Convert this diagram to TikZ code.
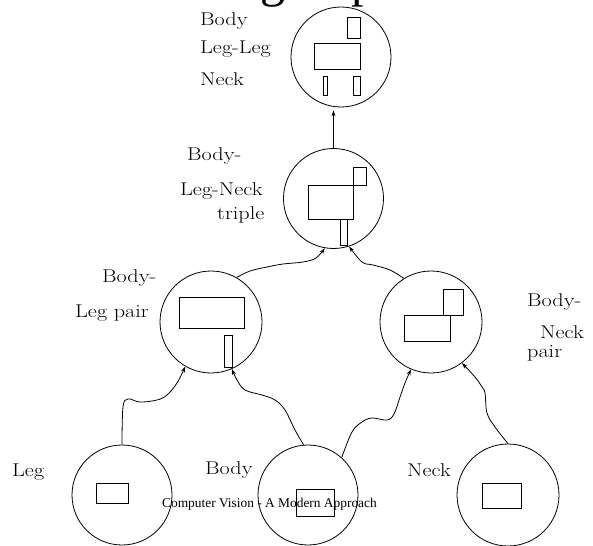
\documentclass[tikz,border=0pt]{standalone}
\usepackage{graphicx}
\usepackage{fontspec}
\newfontfamily\timesfont{Liberation Serif}
\usetikzlibrary{arrows.meta}
% slightly widened serif for the part labels
\newcommand\lblw[1]{\scalebox{1.2}[1]{#1}}
\begin{document}
\begin{tikzpicture}[x=1pt,y=-1pt,
  part/.style={circle, draw, line width=0.8pt, minimum size=100pt, inner sep=0pt},
  blk/.style={draw, line width=1pt},
  lbl/.style={font=\fontsize{18.5}{22}\selectfont, inner sep=0pt, anchor=base west},
  arr/.style={line width=0.8pt, -{Stealth[length=6pt,width=4pt]}},
  wiggle/.style={arr, smooth, tension=0.6}]
\useasboundingbox (0,0) rectangle (593,545);

% title, mostly above the frame
\node[font=\timesfont\fontsize{50}{56}\selectfont, inner sep=0pt, anchor=base west] (title) at (260,-3) {group};

% part circles
\node[part] (top)  at (341,57) {};
\node[part] (tri)  at (333.5,198.5) {};
\node[part, minimum size=102pt] (bl) at (211,322) {};
\node[part, minimum size=102pt] (bn) at (431,322) {};
\node[part] (leg)  at (122,495) {};
\node[part] (body) at (308,495) {};
\node[part, minimum size=102pt] (neck) at (508,495) {};

% figures inside the circles
\draw[blk] (347,18) rectangle (360,39);
\draw[blk] (314,44) rectangle (360,70);
\draw[blk] (323,77) rectangle (327,96);
\draw[blk] (353,77) rectangle (360,96);

\draw[blk] (308,186) rectangle (353,219);
\draw[blk] (353,168) rectangle (366,186);
\draw[blk] (340,219) rectangle (347,245);

\draw[blk] (179,297) rectangle (244,328);
\draw[blk] (224,335) rectangle (232,367);

\draw[blk] (404,315) rectangle (450,341);
\draw[blk] (443,289) rectangle (463,315);

\draw[blk] (96,483) rectangle (128,503);
\draw[blk] (296,489) rectangle (334,516);
\draw[blk] (482,483) rectangle (521,508);

% labels
\node[lbl] (t1) at (200,26) {\lblw{Body}};
\node[lbl] (t2) at (200,54) {\lblw{Leg-Leg}};
\node[lbl] (t3) at (200,86) {\lblw{Neck}};

\node[lbl] (m1) at (187,161) {\lblw{Body-}};
\node[lbl] (m2) at (180,195) {\lblw{Leg-Neck}};
\node[lbl] (m3) at (217,219) {\lblw{triple}};

\node[lbl] (l1) at (102,282) {\lblw{Body-}};
\node[lbl] (l2) at (75,317) {\lblw{Leg pair}};

\node[lbl] (r1) at (527,306) {\lblw{Body-}};
\node[lbl] (r2) at (540,338) {\lblw{Neck}};
\node[lbl] (r3) at (527,357) {\lblw{pair}};

\node[lbl] (b1) at (12,476) {\lblw{Leg}};
\node[lbl] (b2) at (205,474) {\lblw{Body}};
\node[lbl] (b3) at (407,476) {\lblw{Neck}};

% connectors
\draw[arr, shorten >=3pt] (tri.north) -- (tri.north |- top.south);
\draw[wiggle] plot coordinates {(bl.60) (250,271) (267,267) (283,264) (303,262) (316,258) (tri.260)};
\draw[wiggle] plot coordinates {(bn.122) (390,270) (373,265) (362,262) (tri.288)};
\draw[wiggle] plot coordinates {(leg.north) (123,407) (128,399) (140,402) (157,400) (167,395) (177,383) (bl.240)};
\draw[wiggle] plot coordinates {(body.95) (295,430) (285,410) (275,400) (262,395) (245,390) (237,380) (bl.294)};
\draw[wiggle] plot coordinates {(body.48) (352,432) (362,422) (372,418) (387,420) (394,414) (400,397) (405,383) (bn.247)};
\draw[wiggle] plot coordinates {(neck.north) (495,427) (487,413) (485,393) (482,387) (475,377) (bn.307)};

% footer
\node[font=\timesfont\fontsize{13.4}{15}\selectfont, inner sep=0pt, anchor=base] (foot) at (269.5,507) {Computer Vision - A Modern Approach};
\end{tikzpicture}
\end{document}
